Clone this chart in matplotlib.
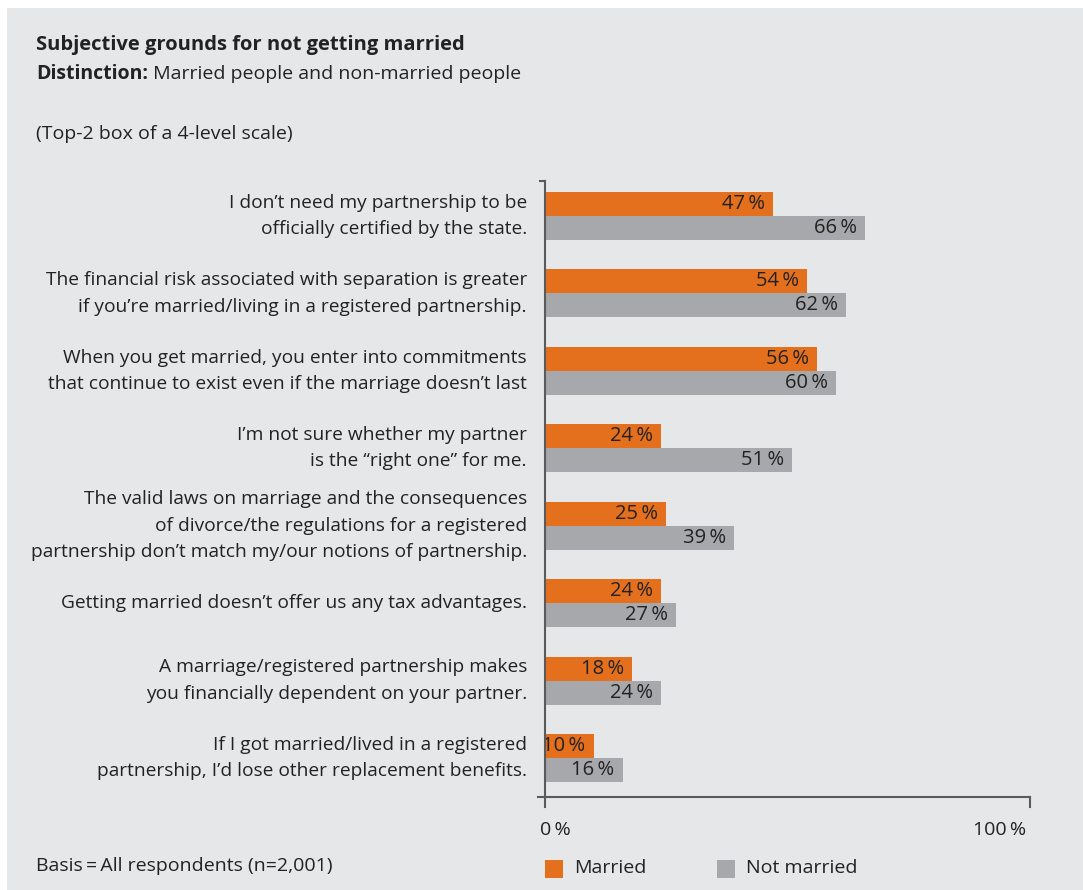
import numpy as np
import matplotlib.pyplot as plt
from matplotlib.patches import Rectangle

# survey answers, top-2 box in percent
reasons = [
    "I don\u2019t need my partnership to be\nofficially certified by the state.",
    "The financial risk associated with separation is greater\nif you\u2019re married/living in a registered partnership.",
    "When you get married, you enter into commitments\nthat continue to exist even if the marriage doesn\u2019t last",
    "I\u2019m not sure whether my partner\nis the \u201cright one\u201d for me.",
    "The valid laws on marriage and the consequences\nof divorce/the regulations for a registered\npartnership don\u2019t match my/our notions of partnership.",
    "Getting married doesn\u2019t offer us any tax advantages.",
    "A marriage/registered partnership makes\nyou financially dependent on your partner.",
    "If I got married/lived in a registered\npartnership, I\u2019d lose other replacement benefits.",
]
married = [47, 54, 56, 24, 25, 24, 18, 10]
not_married = [66, 62, 60, 51, 39, 27, 24, 16]
series_names = ["Married", "Not married"]

orange = '#e4701e'
grey = '#a7a8ab'
bg = '#e6e7e9'
ink = '#222222'
axis_col = '#5a5a5a'

plt.rcParams['font.family'] = ['Open Sans', 'DejaVu Sans']
fs = 14

W, H = 1083, 890
fig = plt.figure(figsize=(W / 100, H / 100), dpi=100)
fig.patch.set_facecolor('white')
fig.patches.append(Rectangle((7 / W, 0), 1, 1 - 8 / H, transform=fig.transFigure,
                             facecolor=bg, edgecolor='none', zorder=-5))

# plot area: 0..100 % spans x 545..1030 px
ax = fig.add_axes([545 / W, 93 / H, 485 / W, 616 / H])
ax.patch.set_alpha(0)
for s in ax.spines.values():
    s.set_visible(False)
ax.set_xticks([])
ax.set_yticks([])

pitch = 77.43          # px per group
px_x = 485 / 100       # px per percent
y_top, y_bot = -0.452, 7.504
ax.set_xlim(0, 100)
ax.set_ylim(y_bot, y_top)

bh = 24 / pitch
y = np.arange(len(reasons))
ax.barh(y - bh / 2, married, height=bh, color=orange, zorder=2)
ax.barh(y + bh / 2, not_married, height=bh, color=grey, zorder=2)

for i in range(len(reasons)):
    ax.text(married[i] - 8 / px_x, i - bh / 2, f"{married[i]}\u2009%", ha='right', va='center',
            fontsize=14.5, color=ink, zorder=3)
    ax.text(not_married[i] - 8 / px_x, i + bh / 2, f"{not_married[i]}\u2009%", ha='right',
            va='center', fontsize=14.5, color=ink, zorder=3)
    ax.text(-18 / px_x, i, reasons[i], ha='right', va='center', fontsize=13.8,
            color=ink, linespacing=1.6)

# axis lines
ext = 10 / pitch
ax.plot([0, 0], [y_top, y_bot + ext], color=axis_col, lw=1.5, clip_on=False, zorder=4)
ax.plot([-5 / px_x, 0], [y_top, y_top], color=axis_col, lw=1.5, clip_on=False, zorder=4)
ax.plot([-7 / px_x, 100], [y_bot, y_bot], color=axis_col, lw=1.5, clip_on=False, zorder=4)
ax.plot([100, 100], [y_bot, y_bot + ext], color=axis_col, lw=1.5, clip_on=False, zorder=4)
ax.text(-5 / px_x, y_bot + 33 / pitch, "0\u2009%", ha='left', va='center', fontsize=fs, color=ink)
ax.text(100 - 4 / px_x, y_bot + 33 / pitch, "100\u2009%", ha='right', va='center', fontsize=fs, color=ink)

# header
fig.text(36 / W, 1 - 45 / H, "Subjective grounds for not getting married", fontsize=fs + 0.5,
         fontweight='bold', color=ink, va='center')
t = fig.text(36 / W, 1 - 74 / H, "Distinction:", fontsize=fs, fontweight='bold',
             color=ink, va='center')
ax.annotate(" Married people and non-married people", xy=(1, 0.5), xycoords=t,
            va='center', ha='left', fontsize=fs, color=ink, annotation_clip=False)
fig.text(36 / W, 1 - 134 / H, "(Top-2 box of a 4-level scale)", fontsize=fs, color=ink, va='center')
fig.text(36 / W, 1 - 866 / H, "Basis\u2009=\u2009All respondents (n=2,001)", fontsize=fs,
         color=ink, va='center')

# legend
for x0, col, name in [(545, orange, series_names[0]), (717, grey, series_names[1])]:
    fig.patches.append(Rectangle((x0 / W, 1 - 878 / H), 18 / W, 18 / H, transform=fig.transFigure,
                                 facecolor=col, edgecolor='none'))
    fig.text((x0 + 29) / W, 1 - 868 / H, name, fontsize=fs, color=ink, va='center')

fig.savefig('out.png', dpi=100, facecolor=fig.get_facecolor())
